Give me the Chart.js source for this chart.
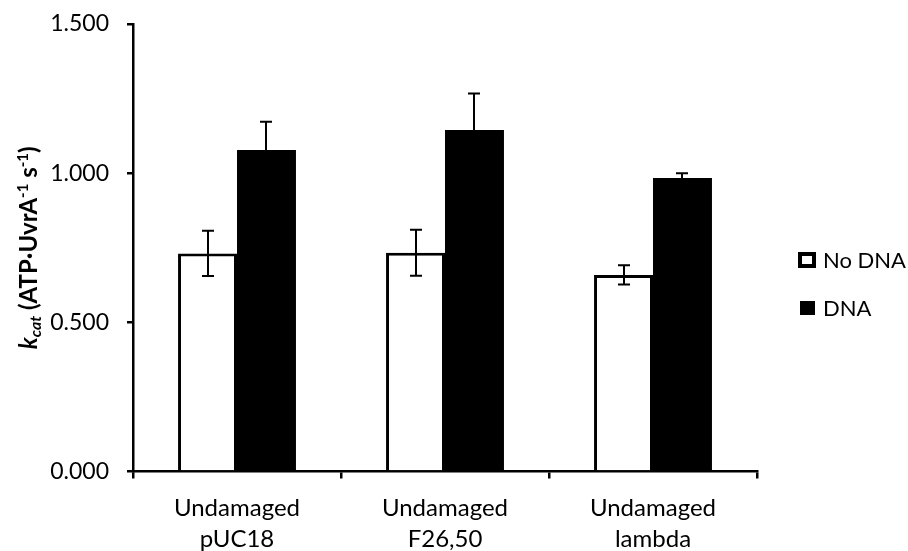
<!DOCTYPE html>
<html>
<head>
<meta charset="utf-8">
<script src="https://cdn.jsdelivr.net/npm/chart.js@4.4.1/dist/chart.umd.min.js"></script>
<style>
  html, body { margin: 0; padding: 0; background: #fff; }
</style>
</head>
<body>
<canvas id="kcatChart" width="908" height="551"></canvas>
<script>
// data
const categories = [['Undamaged', 'pUC18'], ['Undamaged', 'F26,50'], ['Undamaged', 'lambda']];
const seriesNames = ['No DNA', 'DNA'];
const noDnaValues = [0.731, 0.733, 0.659];
const noDnaErrors = [0.076, 0.077, 0.032];
const dnaValues = [1.078, 1.145, 0.984];
const dnaErrors = [0.094, 0.122, 0.016];
const yTicks = [0, 0.5, 1.0, 1.5];

const FONT = 'Lato, "Open Sans", sans-serif';

// error bars drawn through the y scale
const errorBars = {
  id: 'errorBars',
  afterDatasetsDraw(chart) {
    const ctx = chart.ctx;
    const y = chart.scales.y;
    const errs = [noDnaErrors, dnaErrors];
    ctx.save();
    ctx.strokeStyle = '#000';
    ctx.lineWidth = 2;
    chart.data.datasets.forEach((ds, di) => {
      const meta = chart.getDatasetMeta(di);
      meta.data.forEach((bar, i) => {
        const v = ds.data[i], e = errs[di][i];
        const top = y.getPixelForValue(v + e);
        const bot = y.getPixelForValue(v - e);
        const x = Math.round(bar.x);
        ctx.beginPath();
        ctx.moveTo(x, top); ctx.lineTo(x, bot);
        ctx.moveTo(x - 6, top); ctx.lineTo(x + 6, top);
        ctx.moveTo(x - 6, bot); ctx.lineTo(x + 6, bot);
        ctx.stroke();
      });
    });
    ctx.restore();
  }
};

// y title with italic subscript and superscripts
const yTitle = {
  id: 'yTitle',
  afterDraw(chart) {
    const ctx = chart.ctx;
    const area = chart.chartArea;
    const runs = [
      { t: 'k', f: 'italic bold 24px ' + FONT, dy: 0 },
      { t: 'cat', f: 'italic bold 16px ' + FONT, dy: 4 },
      { t: ' (ATP\u00b7UvrA', f: 'bold 24px ' + FONT, dy: 0 },
      { t: '-1', f: 'bold 15px ' + FONT, dy: -9 },
      { t: ' s', f: 'bold 24px ' + FONT, dy: 0 },
      { t: '-1', f: 'bold 15px ' + FONT, dy: -9 },
      { t: ')', f: 'bold 24px ' + FONT, dy: 0 }
    ];
    ctx.save();
    let total = 0;
    runs.forEach(r => { ctx.font = r.f; r.w = ctx.measureText(r.t).width; total += r.w; });
    ctx.translate(37, (area.top + area.bottom) / 2);
    ctx.rotate(-Math.PI / 2);
    ctx.fillStyle = '#000';
    ctx.textBaseline = 'alphabetic';
    let x = -total / 2;
    runs.forEach(r => { ctx.font = r.f; ctx.fillText(r.t, x, r.dy); x += r.w; });
    ctx.restore();
  }
};

// legend on the right
const sideLegend = {
  id: 'sideLegend',
  afterDraw(chart) {
    const ctx = chart.ctx;
    ctx.save();
    ctx.font = '22px ' + FONT;
    ctx.textBaseline = 'middle';
    // No DNA
    ctx.fillStyle = '#fff';
    ctx.fillRect(800, 254, 14, 12);
    ctx.strokeStyle = '#000';
    ctx.lineWidth = 4;
    ctx.strokeRect(800, 254, 14, 12);
    ctx.fillStyle = '#000';
    ctx.fillText(seriesNames[0], 823, 261);
    // DNA
    ctx.fillRect(800, 301, 15, 14);
    ctx.fillText(seriesNames[1], 823, 309);
    ctx.restore();
  }
};

const ctx = document.getElementById('kcatChart').getContext('2d');
const kcatChart = new Chart(ctx, {
  type: 'bar',
  data: {
    labels: categories,
    datasets: [
      {
        label: seriesNames[0],
        data: noDnaValues,
        backgroundColor: '#fff',
        borderColor: '#000',
        borderWidth: 3,
        borderSkipped: 'start'
      },
      {
        label: seriesNames[1],
        data: dnaValues,
        backgroundColor: '#000',
        borderWidth: 0
      }
    ]
  },
  options: {
    responsive: false,
    animation: false,
    categoryPercentage: 0.567,
    barPercentage: 1.0,
    layout: { padding: { top: 24, right: 151, left: 0, bottom: 0 } },
    plugins: {
      legend: { display: false },
      tooltip: { enabled: false }
    },
    scales: {
      x: {
        afterFit: s => { s.height = 79.5; },
        grid: { offset: true, drawOnChartArea: false, drawTicks: true, tickLength: 7, color: '#000', lineWidth: 2.5 },
        border: { display: true, color: '#000', width: 2.5 },
        ticks: { color: '#000', padding: 14, font: { family: FONT, size: 24, lineHeight: 1.3 } }
      },
      y: {
        min: 0,
        max: 1.5,
        afterFit: s => { s.width = 133; s.paddingTop = 0; s.paddingBottom = 0; },
        afterBuildTicks: s => { s.ticks = yTicks.map(v => ({ value: v })); },
        grid: { drawOnChartArea: false, drawTicks: true, tickLength: 6, color: '#000', lineWidth: 2.5 },
        border: { display: true, color: '#000', width: 2.5 },
        ticks: { color: '#000', padding: 18, font: { family: FONT, size: 23 }, callback: v => Number(v).toFixed(3) }
      }
    }
  },
  plugins: [errorBars, yTitle, sideLegend]
});
</script>
</body>
</html>
